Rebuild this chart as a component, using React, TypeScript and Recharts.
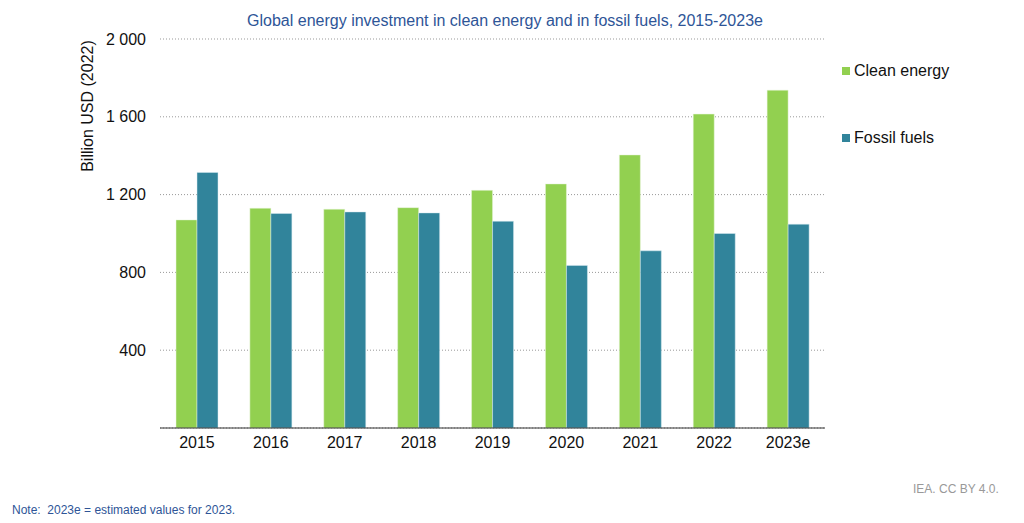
import React from "react";
import { BarChart, Bar, XAxis, YAxis, CartesianGrid } from "recharts";

const categories = ["2015", "2016", "2017", "2018", "2019", "2020", "2021", "2022", "2023e"];
const cleanEnergy = [1070, 1130, 1125, 1133, 1222, 1255, 1404, 1614, 1737];
const fossilFuels = [1314, 1103, 1111, 1106, 1063, 836, 911, 1000, 1048];
const yTicks = [400, 800, 1200, 1600, 2000];

const data = categories.map((c, i) => ({ year: c, clean: cleanEnergy[i], fossil: fossilFuels[i] }));

const FONT = "'Liberation Sans', Arial, sans-serif";
const GREEN = "#92D050";
const TEAL = "#31849B";

const fmt = (v: number) => String(v).replace(/\B(?=(\d{3})+(?!\d))/g, " ");

export default function App() {
  return (
    <div style={{ position: "absolute", left: 0, top: 0, width: 1024, height: 523, background: "#fff", fontFamily: FONT }}>
      <BarChart
        width={1024}
        height={523}
        data={data}
        margin={{ top: 39, right: 199, bottom: 65, left: 100 }}
        barCategoryGap={16}
        barGap={0}
      >
        <CartesianGrid vertical={false} stroke="#999" strokeDasharray="1 2" />
        <XAxis
          dataKey="year"
          height={30}
          axisLine={{ stroke: "#333", strokeWidth: 1 }}
          tickLine={false}
          tickMargin={3}
          tick={{ fill: "#111", fontSize: 16, fontFamily: FONT }}
        />
        <YAxis
          width={60}
          domain={[0, 2000]}
          ticks={yTicks}
          interval={0}
          axisLine={false}
          tickLine={false}
          tickMargin={8}
          tickFormatter={fmt}
          tick={{ fill: "#111", fontSize: 16, fontFamily: FONT }}
        />
        <Bar dataKey="clean" fill={GREEN} stroke="#e8f5dc" strokeWidth={0.5} isAnimationActive={false} />
        <Bar dataKey="fossil" fill={TEAL} stroke="#d8eaf0" strokeWidth={0.5} isAnimationActive={false} />
        <text x={505} y={26} textAnchor="middle" fill="#2E5597" fontSize={16} fontFamily={FONT}>
          Global energy investment in clean energy and in fossil fuels, 2015-2023e
        </text>
        <text
          x={93}
          y={106}
          transform="rotate(-90 93 106)"
          textAnchor="middle"
          fill="#111"
          fontSize={16}
          fontFamily={FONT}
        >
          Billion USD (2022)
        </text>
        <rect x={842} y={67} width={8} height={8} fill={GREEN} />
        <text x={854} y={76} fill="#111" fontSize={16} fontFamily={FONT}>Clean energy</text>
        <rect x={842} y={134} width={8} height={8} fill={TEAL} />
        <text x={854} y={143} fill="#111" fontSize={16} fontFamily={FONT}>Fossil fuels</text>
        <text x={12} y={514} fill="#2E5597" fontSize={12} fontFamily={FONT}>{"Note:\u00a0 2023e = estimated values for 2023."}</text>
        <text x={913} y={493} fill="#999" fontSize={12} fontFamily={FONT}>IEA. CC BY 4.0.</text>
      </BarChart>
    </div>
  );
}
